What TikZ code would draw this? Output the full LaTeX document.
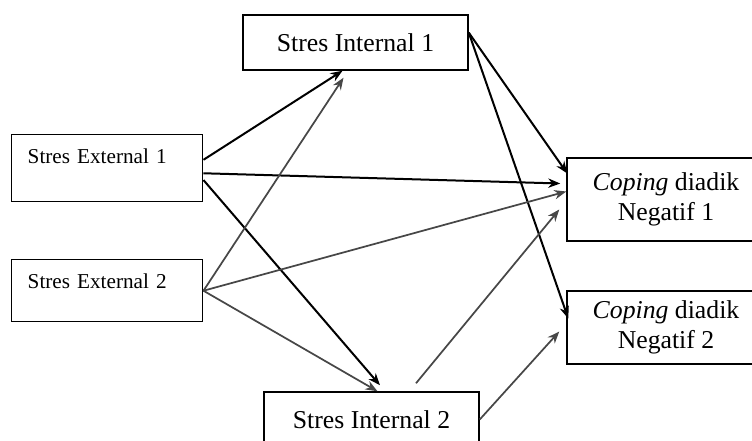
\documentclass[tikz,border=0pt]{standalone}
\usepackage{fontspec}
\setmainfont{Liberation Serif}
\usetikzlibrary{arrows.meta,calc}

\begin{document}
\begin{tikzpicture}[x=0.75pt, y=-0.75pt,
    boxStyle/.style={rectangle, draw, line width=1.1pt, inner sep=0pt},
    bigStyle/.style={boxStyle, font=\fontsize{19.3}{22.5}\selectfont, align=center},
    extStyle/.style={boxStyle, font=\fontsize{15.9}{19}\selectfont, align=left, text width=119.25pt, inner xsep=12pt, text height=21.75pt},
    blackArrow/.style={-{Stealth[length=9pt, width=7pt]}, line width=1.5pt, black},
    grayArrow/.style={-{Stealth[length=9pt, width=7pt]}, line width=1.3pt, black!72}]
    \clip (0,0) rectangle (752,441);

    \node[bigStyle, minimum width=168.75pt, minimum height=41.25pt] (int1) at (355.5, 42.5) {Stres Internal 1};
    \node[bigStyle, minimum width=161.25pt, minimum height=41.25pt] (int2) at (371.5, 419.5) {Stres Internal 2};

    \node[extStyle, text depth=28.5pt, anchor=north west] (ext1) at (11, 134) {Stres External 1};
    \node[extStyle, text depth=24.75pt, anchor=north west] (ext2) at (11, 259) {Stres External 2};

    \node[bigStyle, minimum width=148.5pt, minimum height=62.25pt] (cop1) at (666, 199.5) {\textit{Coping} diadik\\Negatif 1};
    \node[bigStyle, minimum width=148.5pt, minimum height=54.75pt] (cop2) at (666, 327.5) {\textit{Coping} diadik\\Negatif 2};

    \coordinate (int2_top) at ($(int2.north)+(44.5,-8)$);

    % black arrows
    \draw[blackArrow] (ext1.5)  -- ($(int1.south)+(-13,0)$);
    \draw[blackArrow] (ext1.-3) -- ($(cop1.west)+(-6,-16)$);
    \draw[blackArrow] (ext1.-7) -- ($(int2.north)+(8.5,-6)$);
    \draw[blackArrow] (int1.5)  -- ($(cop1.west)+(1,-26)$);
    \draw[blackArrow] (int1.5)  -- ($(cop2.west)+(2,-9)$);

    % gray arrows
    \draw[grayArrow] (ext2.east) -- ($(int1.south)+(-12,7)$);
    \draw[grayArrow] (ext2.east) -- ($(cop1.west)+(0,-8)$);
    \draw[grayArrow] (ext2.east) -- ($(int2.north)+(6,0)$);
    \draw[grayArrow] (int2_top)  -- ($(cop1.west)+(-7,10)$);
    \draw[grayArrow] (int2.east) -- ($(cop2.west)+(-7,4)$);
\end{tikzpicture}
\end{document}
